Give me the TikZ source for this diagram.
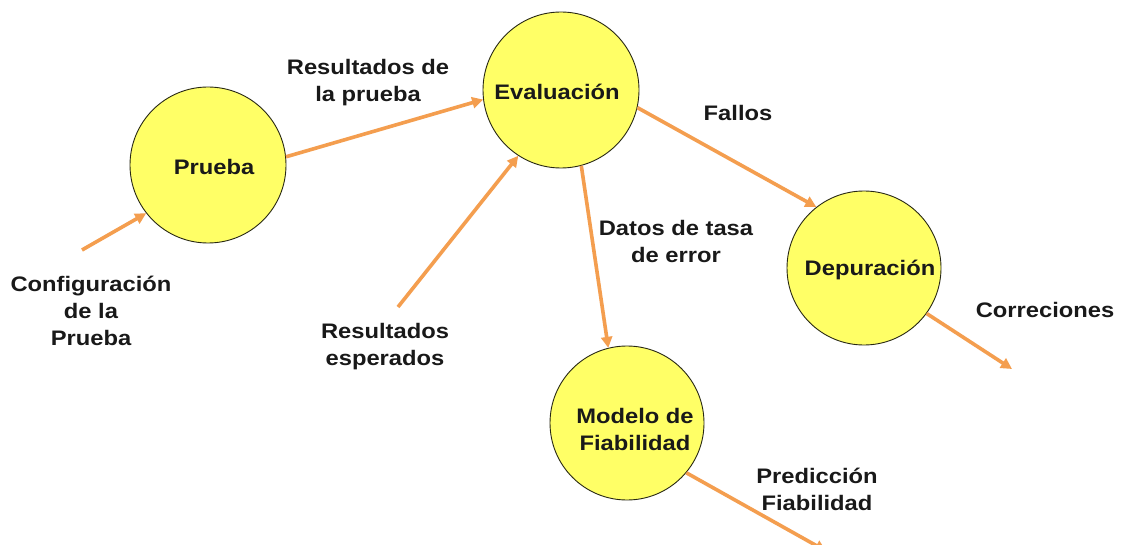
\documentclass[tikz,border=0pt]{standalone}
\usepackage{fontspec}
\setmainfont{Liberation Sans}[FakeStretch=1.13]
\usetikzlibrary{arrows.meta}
\definecolor{flow}{RGB}{244,158,79}
\definecolor{bubble}{RGB}{255,255,102}
\definecolor{rim}{RGB}{40,40,20}
\tikzset{
  bub/.style={circle, draw=rim, line width=0.9pt, fill=bubble, minimum size=#1, inner sep=0pt},
  txt/.style={font=\bfseries\fontsize{21}{27}\selectfont, text=black!90, align=center, inner sep=0pt},
  flowarrow/.style={draw=flow, line width=3.6pt, -{Triangle[length=11pt,width=11pt]}},
}
\begin{document}
\begin{tikzpicture}[x=1pt,y=-1pt]
\useasboundingbox (0,0) rectangle (1123,545);
\clip (0,0) rectangle (1123,545);
\fill[white] (0,0) rectangle (1123,545);
% bubbles
\node[bub=156pt] (pr) at (208,165) {};
\node[bub=156pt] (ev) at (561,90) {};
\node[bub=154pt] (dep) at (864,268) {};
\node[bub=154pt] (mod) at (627,423) {};
% bubble texts
\node[txt] (prt) at (214,167) {Prueba};
\node[txt] (evt) at (557,92) {Evaluación};
\node[txt] (dept) at (870,270) {Depuración};
\node[txt] (modt) at (635,429) {Modelo de\\Fiabilidad};
% free ends
\coordinate (cfg) at (82,250);
\coordinate (esp) at (398,307);
\coordinate (cor) at (1012,369);
\coordinate (pred) at (826,551);
% connectors
\draw[flowarrow] (cfg) -- (pr.218);
\draw[flowarrow] (pr.6) -- (ev.187);
\draw[flowarrow] (esp) -- (ev.237);
\draw[flowarrow] (ev.285) -- (mod.104);
\draw[flowarrow] (ev.347) -- (dep.128);
\draw[flowarrow] (dep.324) -- (cor);
\draw[flowarrow] (mod.320) -- (pred);
% labels
\node[txt] (l1) at (368,83) {Resultados de\\la prueba};
\node[txt] (l2) at (385,347) {Resultados\\esperados};
\node[txt] (l3) at (91,311) {Configuración\\de la\\Prueba};
\node[txt] (l4) at (738,113) {Fallos};
\node[txt] (l5) at (676,241) {Datos de tasa\\de error};
\node[txt] (l6) at (1045,310) {Correciones};
\node[txt] (l7) at (817,489) {Predicción\\Fiabilidad};
\end{tikzpicture}
\end{document}
